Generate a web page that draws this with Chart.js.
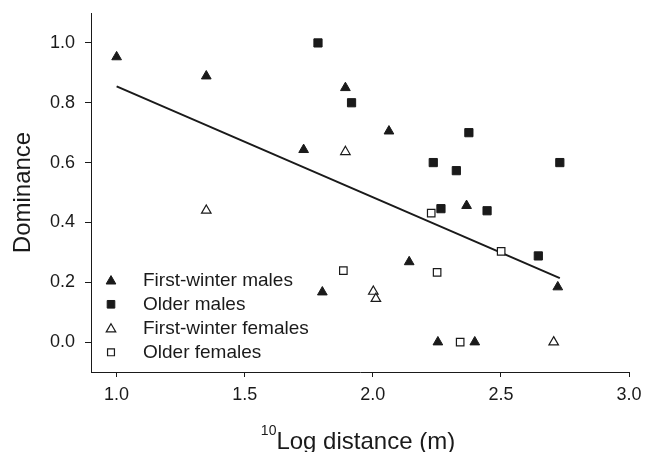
<!DOCTYPE html>
<html>
<head>
<meta charset="utf-8">
<script src="https://cdn.jsdelivr.net/npm/chart.js@4.4.0/dist/chart.umd.min.js"></script>
<style>
  body { margin: 0; background: #fff; }
  #wrap { width: 645px; height: 452px; }
</style>
</head>
<body>
<div id="wrap"><canvas id="myChart"></canvas></div>
<script>
// values
const seriesNames = ["First-winter males", "Older males", "First-winter females", "Older females"];

const fwMalesX = [1.0, 1.35, 1.73, 1.803, 1.893, 2.063, 2.142, 2.254, 2.366, 2.398, 2.722];
const fwMalesY = [0.953, 0.889, 0.643, 0.167, 0.85, 0.705, 0.268, 0.0, 0.456, 0.0, 0.184];

const oldMalesX = [1.786, 1.917, 2.236, 2.266, 2.326, 2.375, 2.446, 2.646, 2.73];
const oldMalesY = [1.0, 0.80, 0.60, 0.446, 0.573, 0.70, 0.439, 0.288, 0.60];

const fwFemalesX = [1.35, 1.893, 2.002, 2.012, 2.706];
const fwFemalesY = [0.44, 0.636, 0.169, 0.145, 0.0];

const oldFemalesX = [1.885, 2.228, 2.251, 2.341, 2.501];
const oldFemalesY = [0.239, 0.431, 0.233, 0.0, 0.303];

// regression line end points
const fitX = [1.0, 2.73];
const fitY = [0.855, 0.214];

const xTicks = [1.0, 1.5, 2.0, 2.5, 3.0];
const yTicks = [0.0, 0.2, 0.4, 0.6, 0.8, 1.0];

const ink = "#1a1a1a";
const pts = (xs, ys) => xs.map((x, i) => ({ x: x, y: ys[i] }));

// marker looks, used for data and legend
const styles = [
  { pointStyle: "triangle", radius: 5.6, fill: ink, stroke: ink, bw: 1 },
  { pointStyle: "rect", radius: 5.8, fill: ink, stroke: ink, bw: 1 },
  { pointStyle: "triangle", radius: 5.5, fill: "#fff", stroke: ink, bw: 1.2 },
  { pointStyle: "rect", radius: 5.3, fill: "#fff", stroke: ink, bw: 1.2 }
];

const seriesData = [
  pts(fwMalesX, fwMalesY),
  pts(oldMalesX, oldMalesY),
  pts(fwFemalesX, fwFemalesY),
  pts(oldFemalesX, oldFemalesY)
];

const datasets = seriesData.map((d, i) => ({
  type: "scatter",
  label: seriesNames[i],
  data: d,
  pointStyle: styles[i].pointStyle,
  pointRadius: styles[i].radius,
  pointBackgroundColor: styles[i].fill,
  pointBorderColor: styles[i].stroke,
  pointBorderWidth: styles[i].bw,
  pointHoverRadius: styles[i].radius
}));

datasets.push({
  type: "line",
  label: "fit",
  data: pts(fitX, fitY),
  borderColor: ink,
  borderWidth: 2,
  pointRadius: 0,
  fill: false
});

// legend inside the plot, bottom left, plus x title with superscript
const extras = {
  id: "extras",
  afterDraw(chart) {
    const ctx = chart.ctx;
    ctx.save();
    ctx.fillStyle = ink;
    ctx.font = "19px 'Liberation Sans', Arial, sans-serif";
    ctx.textBaseline = "middle";
    ctx.textAlign = "left";
    seriesNames.forEach((name, i) => {
      const y = 280.3 + i * 24;
      const mx = 111;
      const s = styles[i];
      ctx.beginPath();
      if (s.pointStyle === "triangle") {
        const r = s.radius;
        ctx.moveTo(mx, y - r * 0.75 - 0.5);
        ctx.lineTo(mx + r * 0.866, y + r * 0.75 - 0.5);
        ctx.lineTo(mx - r * 0.866, y + r * 0.75 - 0.5);
        ctx.closePath();
      } else {
        const h = s.radius * Math.SQRT1_2 - 0.3;
        ctx.rect(mx - h, y - h, 2 * h, 2 * h);
      }
      ctx.fillStyle = s.fill;
      ctx.fill();
      ctx.lineWidth = s.bw;
      ctx.strokeStyle = s.stroke;
      ctx.stroke();
      ctx.fillStyle = ink;
      ctx.fillText(name, 143, y);
    });

    // x axis title: superscript 10 + Log distance (m)
    const sup = "10", main = "Log distance (m)";
    ctx.font = "14px 'Liberation Sans', Arial, sans-serif";
    const w1 = ctx.measureText(sup).width;
    ctx.font = "24px 'Liberation Sans', Arial, sans-serif";
    const w2 = ctx.measureText(main).width;
    const cx = 358;
    const x0 = cx - (w1 + w2) / 2;
    ctx.textBaseline = "alphabetic";
    ctx.fillText(main, x0 + w1, 448.5);
    ctx.font = "14px 'Liberation Sans', Arial, sans-serif";
    ctx.fillText(sup, x0, 435);
    ctx.restore();
  }
};

new Chart("myChart", {
  data: { datasets: datasets },
  options: {
    responsive: true,
    maintainAspectRatio: false,
    animation: false,
    layout: { padding: { top: 13, right: 16, left: 0, bottom: 0 } },
    plugins: {
      legend: { display: false },
      tooltip: { enabled: false }
    },
    scales: {
      x: {
        type: "linear",
        min: 0.9,
        max: 3.0,
        afterBuildTicks: (s) => { s.ticks = xTicks.map(v => ({ value: v })); },
        afterFit: (s) => { s.height = 80; s.paddingLeft = 0; s.paddingRight = 0; },
        border: { display: true, color: ink, width: 1 },
        grid: { drawOnChartArea: false, drawTicks: true, tickLength: 5, color: ink },
        ticks: {
          color: ink,
          padding: 7,
          font: { family: "'Liberation Sans', Arial, sans-serif", size: 18, lineHeight: 1.2 },
          callback: (v) => Number(v).toFixed(1)
        },
        title: { display: false }
      },
      y: {
        type: "linear",
        min: -0.1,
        max: 1.1,
        afterBuildTicks: (s) => { s.ticks = yTicks.map(v => ({ value: v })); },
        afterFit: (s) => { s.width = 91; s.paddingTop = 0; s.paddingBottom = 0; },
        border: { display: true, color: ink, width: 1 },
        grid: { drawOnChartArea: false, drawTicks: true, tickLength: 6, color: ink },
        ticks: {
          color: ink,
          padding: 10,
          font: { family: "'Liberation Sans', Arial, sans-serif", size: 18, lineHeight: 1.2 },
          callback: (v) => Number(v).toFixed(1)
        },
        title: {
          display: true,
          text: "Dominance",
          color: ink,
          padding: { top: 9, bottom: 0 },
          font: { family: "'Liberation Sans', Arial, sans-serif", size: 24, lineHeight: 1.2 }
        }
      }
    }
  },
  plugins: [extras]
});
</script>
</body>
</html>
